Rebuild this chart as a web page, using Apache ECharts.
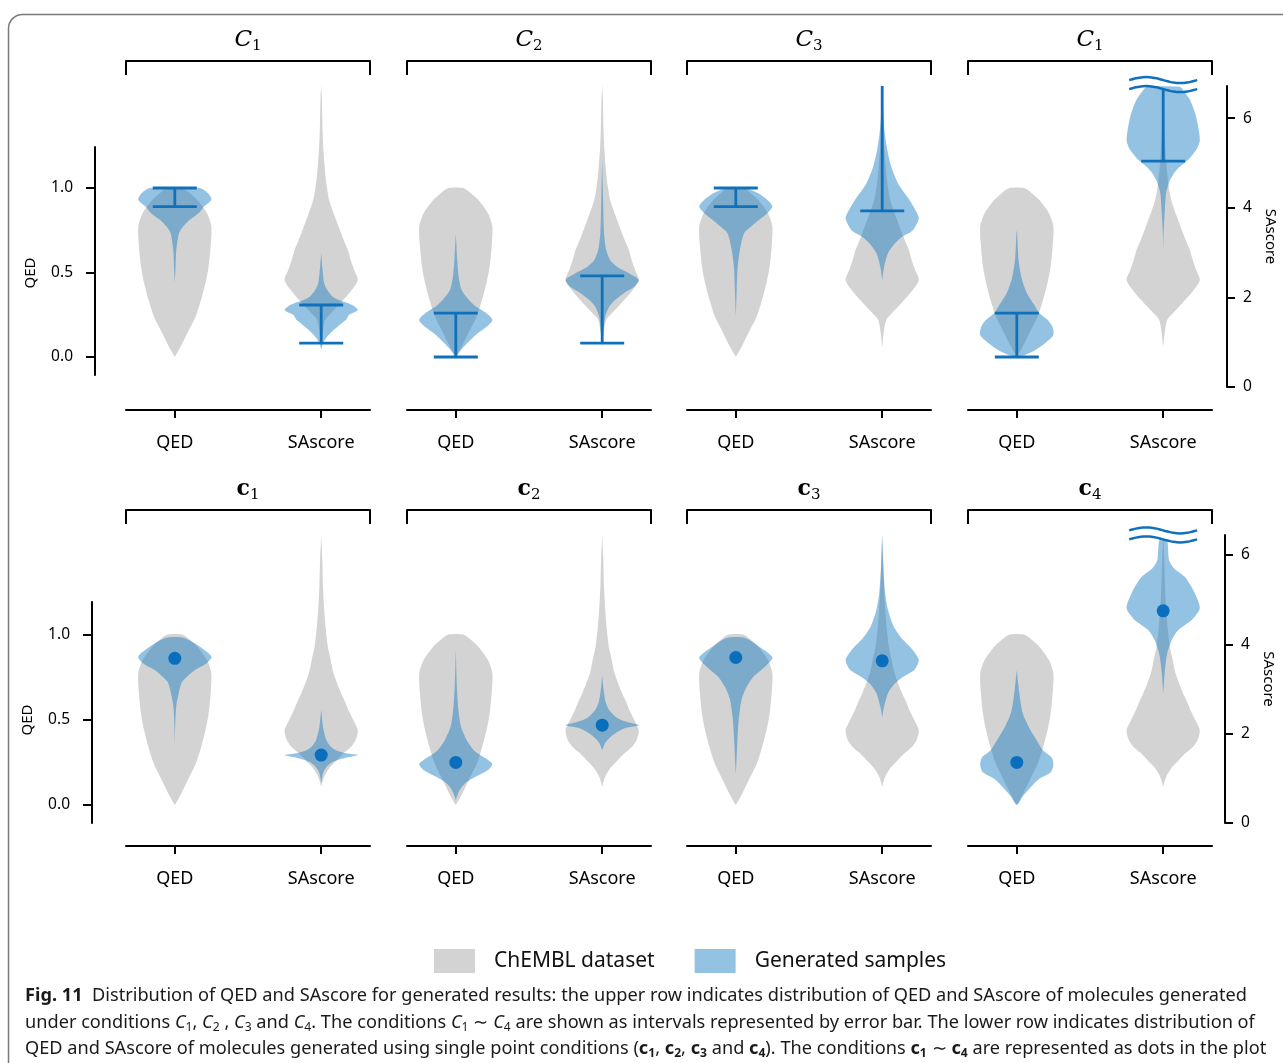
<!DOCTYPE html>
<html>
<head>
<meta charset="utf-8">
<script src="https://cdn.jsdelivr.net/npm/echarts@6/dist/echarts.min.js"></script>
<style>
html, body { margin: 0; padding: 0; background: #fff; }
#chart { width: 1283px; height: 1063px; }
</style>
</head>
<body>
<div id="chart"></div>
<script>
// x categories of every panel
const metrics = ['QED', 'SAscore']
// panel titles: subscripts (upper row uses italic C, lower row bold c; the 4th upper title reads C1 in the figure)
const upperTitles = ['1', '2', '3', '1']
const lowerTitles = ['1', '2', '3', '4']

// violin profiles, [value, relative density]
const chemblQed = [[0, 0], [0.06, 0.16], [0.14, 0.34], [0.24, 0.57], [0.34, 0.72], [0.44, 0.84], [0.53, 0.92], [0.63, 0.97], [0.77, 1.0], [0.85, 0.88], [0.93, 0.61], [0.975, 0.38], [1.0, 0.2]]
const chemblSaUpper = [[0.89, 0], [1.2, 0.04], [1.5, 0.11], [1.65, 0.27], [1.79, 0.43], [1.94, 0.6], [2.17, 0.84], [2.39, 1.0], [2.61, 0.9], [2.85, 0.8], [3.06, 0.73], [3.25, 0.63], [3.44, 0.54], [3.79, 0.38], [4.17, 0.22], [4.55, 0.14], [4.91, 0.095], [5.3, 0.06], [5.67, 0.04], [6.4, 0.02], [6.74, 0]]
const chemblSaLower = [[0.81, 0], [0.96, 0.05], [1.1, 0.12], [1.25, 0.24], [1.4, 0.42], [1.57, 0.62], [1.72, 0.83], [1.9, 0.96], [2.08, 1.0], [2.3, 0.88], [2.5, 0.76], [2.7, 0.66], [2.91, 0.54], [3.2, 0.4], [3.4, 0.32], [3.65, 0.26], [3.95, 0.18], [4.39, 0.12], [4.8, 0.08], [5.3, 0.05], [5.9, 0.03], [6.45, 0]]

// generated samples, interval conditions (upper row)
const genQedC1 = [[0.44, 0], [0.53, 0.02], [0.63, 0.04], [0.73, 0.11], [0.77, 0.22], [0.81, 0.4], [0.85, 0.65], [0.89, 0.8], [0.93, 1.0], [0.97, 0.9], [1.0, 0.68]]
const genSaC1 = [[0.83, 0], [0.98, 0.05], [1.12, 0.16], [1.27, 0.34], [1.43, 0.57], [1.5, 0.68], [1.61, 0.76], [1.72, 1.0], [1.83, 0.85], [2.0, 0.34], [2.17, 0.16], [2.32, 0.08], [2.68, 0.03], [2.99, 0]]
const genQedC2 = [[0, 0], [0.024, 0.08], [0.06, 0.22], [0.1, 0.4], [0.14, 0.6], [0.18, 0.85], [0.219, 1.0], [0.26, 0.83], [0.3, 0.54], [0.337, 0.36], [0.396, 0.16], [0.47, 0.08], [0.57, 0.04], [0.69, 0.01], [0.73, 0]]
const genSaC2 = [[0.98, 0], [1.2, 0.03], [1.56, 0.08], [1.79, 0.19], [1.94, 0.35], [2.1, 0.6], [2.23, 0.86], [2.39, 1.0], [2.54, 0.73], [2.68, 0.41], [2.83, 0.22], [3.06, 0.11], [3.44, 0.05], [4.17, 0.025], [5.07, 0]]
const genQedC3 = [[0.24, 0], [0.4, 0.025], [0.53, 0.05], [0.63, 0.11], [0.73, 0.22], [0.77, 0.41], [0.81, 0.63], [0.85, 0.86], [0.89, 1.0], [0.93, 0.86], [0.97, 0.6], [1.0, 0.27]]
const genSaC3 = [[2.39, 0], [2.68, 0.05], [2.99, 0.16], [3.21, 0.35], [3.35, 0.54], [3.5, 0.84], [3.77, 1.0], [4.02, 0.86], [4.25, 0.68], [4.55, 0.43], [4.91, 0.25], [5.29, 0.14], [5.67, 0.07], [6.1, 0.03], [6.74, 0]]
const genQedC4 = [[0, 0], [0.012, 0.22], [0.04, 0.5], [0.083, 0.78], [0.13, 1.0], [0.18, 0.97], [0.22, 0.84], [0.26, 0.61], [0.3, 0.5], [0.38, 0.27], [0.46, 0.14], [0.57, 0.05], [0.73, 0.01], [0.75, 0]]
const genSaC4 = [[3.06, 0], [3.44, 0.01], [3.88, 0.04], [4.33, 0.08], [4.62, 0.19], [4.84, 0.36], [5.07, 0.68], [5.29, 0.9], [5.51, 1.0], [6.03, 0.9], [6.41, 0.73], [6.63, 0.54], [6.7, 0.45]]

// generated samples, single point conditions (lower row)
const genQedP1 = [[0.36, 0], [0.46, 0.01], [0.58, 0.04], [0.66, 0.11], [0.72, 0.19], [0.75, 0.32], [0.79, 0.54], [0.83, 0.86], [0.87, 1.0], [0.93, 0.68], [0.98, 0.25]]
const genSaP1 = [[0.9, 0], [1.12, 0.05], [1.25, 0.14], [1.37, 0.32], [1.46, 0.68], [1.52, 1.0], [1.56, 0.68], [1.63, 0.4], [1.7, 0.27], [1.86, 0.14], [2.15, 0.05], [2.46, 0.01], [2.53, 0]]
const genQedP2 = [[0.03, 0], [0.05, 0.03], [0.09, 0.11], [0.13, 0.27], [0.165, 0.54], [0.205, 0.88], [0.24, 1.0], [0.275, 0.8], [0.32, 0.5], [0.38, 0.3], [0.46, 0.14], [0.56, 0.07], [0.69, 0.03], [0.91, 0]]
const genSaP2 = [[1.63, 0], [1.79, 0.08], [1.9, 0.19], [2.01, 0.36], [2.13, 0.65], [2.19, 1.0], [2.27, 0.64], [2.37, 0.38], [2.53, 0.19], [2.69, 0.1], [2.9, 0.05], [3.2, 0.01], [3.3, 0]]
const genQedP3 = [[0.18, 0], [0.22, 0.01], [0.36, 0.04], [0.5, 0.08], [0.62, 0.16], [0.69, 0.29], [0.75, 0.47], [0.81, 0.79], [0.865, 1.0], [0.93, 0.63], [0.98, 0.25]]
const genSaP3 = [[2.37, 0], [2.6, 0.05], [2.91, 0.16], [3.13, 0.35], [3.27, 0.57], [3.43, 0.88], [3.65, 1.0], [3.87, 0.84], [4.1, 0.57], [4.39, 0.32], [4.77, 0.16], [5.15, 0.08], [5.73, 0.03], [6.45, 0]]
const genQedP4 = [[0, 0], [0.01, 0.05], [0.05, 0.16], [0.09, 0.32], [0.15, 0.59], [0.19, 0.92], [0.235, 1.0], [0.28, 0.95], [0.32, 0.72], [0.38, 0.54], [0.46, 0.32], [0.54, 0.16], [0.62, 0.09], [0.69, 0.05], [0.79, 0]]
const genSaP4 = [[2.9, 0], [3.36, 0.04], [3.8, 0.11], [4.1, 0.24], [4.32, 0.41], [4.54, 0.77], [4.81, 1.0], [5.15, 0.86], [5.51, 0.59], [5.7, 0.3], [5.89, 0.16], [6.34, 0.1]]

// conditions
const intervalQed = [[0.89, 1.0], [0, 0.26], [0.89, 1.0], [0, 0.26]]
const intervalSa = [[0.98, 1.83], [0.98, 2.48], [3.93, 6.72], [5.04, 6.67]]
const intervalSaCapped = [true, true, false, false]
const pointQed = [0.86, 0.25, 0.865, 0.25]
const pointSa = [1.52, 2.19, 3.63, 4.75]
// broken (open-ended) SAscore condition marks: [panel, value]
const upperBreak = [3, 6.75]
const lowerBreak = [3, 6.45]

const FONT = '"Noto Sans", "Open Sans", sans-serif'
const GREY = '#d3d3d3'
const BLUE = 'rgba(16, 119, 192, 0.45)'
const DARK = '#1170ba'
const X_MIN = 2 / 3
const X_MAX = 7 / 3
const HALF = 0.25
const PANEL_LEFT = [126, 407, 687, 968]
const PANEL_W = 244

const rows = [
  { top: 61, bottom: 410, qedZero: 357, qedPx: 169, saZero: 387, saPx: 44.8,
    left: { x: 95, top: 147, bottom: 375, nameShift: 24 }, right: { x: 1227, top: 86, bottom: 387 },
    titles: upperTitles, bold: false,
    gen: [[genQedC1, genSaC1], [genQedC2, genSaC2], [genQedC3, genSaC3], [genQedC4, genSaC4]],
    chemblSa: chemblSaUpper, brk: upperBreak },
  { top: 510, bottom: 846, qedZero: 805, qedPx: 170.5, saZero: 823, saPx: 44.67,
    left: { x: 92, top: 602, bottom: 823, nameShift: 15 }, right: { x: 1225, top: 535, bottom: 823 },
    titles: lowerTitles, bold: true,
    gen: [[genQedP1, genSaP1], [genQedP2, genSaP2], [genQedP3, genSaP3], [genQedP4, genSaP4]],
    chemblSa: chemblSaLower, brk: lowerBreak }
]

const grid = []
const xAxis = []
const yAxis = []
const series = []

const blackLine = { color: '#000', width: 2 }

function violin (name, color, profile, pos, xi, yi, z) {
  return {
    type: 'custom', name, z, silent: true,
    xAxisIndex: xi, yAxisIndex: yi,
    itemStyle: { color },
    data: [[pos, profile[0][0]]],
    renderItem (params, api) {
      const right = profile.map(p => api.coord([pos + p[1] * HALF, p[0]]))
      const left = profile.slice().reverse().map(p => api.coord([pos - p[1] * HALF, p[0]]))
      return { type: 'polygon', shape: { points: right.concat(left), smooth: 0.25 }, style: { fill: color } }
    }
  }
}

function errorBar (pos, iv, capLo, capHi, xi, yi) {
  return {
    type: 'custom', name: 'condition', z: 4, silent: true,
    xAxisIndex: xi, yAxisIndex: yi,
    data: [[pos, iv[0], iv[1]]],
    renderItem (params, api) {
      const lo = api.coord([pos, iv[0]])
      const hi = api.coord([pos, iv[1]])
      const st = { stroke: DARK, lineWidth: 2.8 }
      const kids = [{ type: 'line', shape: { x1: lo[0], y1: lo[1], x2: hi[0], y2: hi[1] }, style: st }]
      if (capLo) kids.push({ type: 'line', shape: { x1: lo[0] - 22, y1: lo[1], x2: lo[0] + 22, y2: lo[1] }, style: st })
      if (capHi) kids.push({ type: 'line', shape: { x1: hi[0] - 22, y1: hi[1], x2: hi[0] + 22, y2: hi[1] }, style: st })
      return { type: 'group', children: kids }
    }
  }
}

function breakMark (value, xi, yi) {
  return {
    type: 'custom', name: 'break', z: 4, silent: true,
    xAxisIndex: xi, yAxisIndex: yi,
    data: [[2, value]],
    renderItem (params, api) {
      const c = api.coord([2, value])
      const kids = [-4.5, 4.5].map(off => {
        const pts = []
        for (let t = 0; t <= 1.0001; t += 0.05) {
          pts.push([c[0] - 34 + 68 * t, c[1] + off - 3 * Math.sin(2 * Math.PI * t)])
        }
        return { type: 'polyline', shape: { points: pts, smooth: 0.3 }, style: { stroke: DARK, lineWidth: 2.5, fill: null } }
      })
      return { type: 'group', children: kids }
    }
  }
}

function titleName (sub, bold) {
  return bold ? '{b|c}{s|' + sub + '}' : '{c|C}{s|' + sub + '}'
}

rows.forEach((row, r) => {
  const h = row.bottom - row.top
  const qedMin = -(row.bottom - row.qedZero) / row.qedPx
  const qedMax = (row.qedZero - row.top) / row.qedPx
  const saMin = -(row.bottom - row.saZero) / row.saPx
  const saMax = (row.saZero - row.top) / row.saPx

  PANEL_LEFT.forEach((left, c) => {
    const g = grid.length
    grid.push({ left, top: row.top, width: PANEL_W, height: h })
    const xb = xAxis.length
    xAxis.push({
      gridIndex: g, type: 'value', min: X_MIN, max: X_MAX, position: 'bottom',
      axisLine: { onZero: false, lineStyle: blackLine },
      axisTick: { customValues: [1, 2], length: 8, lineStyle: blackLine },
      axisLabel: { customValues: [1, 2], formatter: v => metrics[Math.round(v) - 1], fontSize: 18, color: '#000', margin: 24, fontFamily: FONT },
      splitLine: { show: false }
    })
    xAxis.push({
      gridIndex: g, type: 'value', min: X_MIN, max: X_MAX, position: 'top',
      name: titleName(row.titles[c], row.bold), nameLocation: 'middle', nameGap: 7,
      nameTextStyle: {
        rich: {
          c: { fontFamily: '"DejaVu Serif", serif', fontStyle: 'italic', fontSize: 23, lineHeight: 27, color: '#000' },
          b: { fontFamily: '"DejaVu Serif", serif', fontWeight: 'bold', fontSize: 22, lineHeight: 27, color: '#000' },
          s: { fontFamily: '"DejaVu Serif", serif', fontSize: 15, lineHeight: 15, verticalAlign: 'bottom', color: '#000' }
        }
      },
      axisLine: { onZero: false, lineStyle: blackLine },
      axisTick: { customValues: [X_MIN, X_MAX], inside: true, length: 14, lineStyle: blackLine },
      axisLabel: { show: false },
      splitLine: { show: false }
    })
    const yq = yAxis.length
    yAxis.push({ gridIndex: g, type: 'value', min: qedMin, max: qedMax, show: false })
    yAxis.push({ gridIndex: g, type: 'value', min: saMin, max: saMax, show: false })

    series.push(violin('ChEMBL dataset', GREY, chemblQed, 1, xb, yq, 2))
    series.push(violin('ChEMBL dataset', GREY, row.chemblSa, 2, xb, yq + 1, 2))
    series.push(violin('Generated samples', BLUE, row.gen[c][0], 1, xb, yq, 3))
    series.push(violin('Generated samples', BLUE, row.gen[c][1], 2, xb, yq + 1, 3))

    if (r === 0) {
      series.push(errorBar(1, intervalQed[c], true, true, xb, yq))
      series.push(errorBar(2, intervalSa[c], true, intervalSaCapped[c], xb, yq + 1))
    } else {
      series.push({
        type: 'scatter', name: 'condition', z: 5, silent: true, xAxisIndex: xb, yAxisIndex: yq,
        symbolSize: 13, itemStyle: { color: '#0a6ebd', opacity: 1 }, data: [[1, pointQed[c]]]
      })
      series.push({
        type: 'scatter', name: 'condition', z: 5, silent: true, xAxisIndex: xb, yAxisIndex: yq + 1,
        symbolSize: 13, itemStyle: { color: '#0a6ebd', opacity: 1 }, data: [[2, pointSa[c]]]
      })
    }
    if (row.brk[0] === c) series.push(breakMark(row.brk[1], xb, yq + 1))
  })

  // left QED axis
  let g = grid.length
  grid.push({ left: row.left.x, top: row.left.top, width: 20, height: row.left.bottom - row.left.top })
  xAxis.push({ gridIndex: g, type: 'value', show: false })
  yAxis.push({
    gridIndex: g, type: 'value', position: 'left',
    min: -(row.left.bottom - row.qedZero) / row.qedPx, max: (row.qedZero - row.left.top) / row.qedPx,
    name: 'QED', nameLocation: 'middle', nameGap: 57,
    nameTextStyle: { fontSize: 15, color: '#000', fontFamily: FONT, padding: [0, row.left.nameShift, 0, 0] },
    axisLine: { show: true, onZero: false, lineStyle: blackLine },
    axisTick: { show: true, customValues: [0, 0.5, 1], length: 9, lineStyle: blackLine },
    axisLabel: { customValues: [0, 0.5, 1], formatter: v => v.toFixed(1), fontSize: 15.5, color: '#000', margin: 22, fontFamily: FONT },
    splitLine: { show: false }
  })

  // right SAscore axis
  g = grid.length
  grid.push({ left: row.right.x - 20, top: row.right.top, width: 20, height: row.right.bottom - row.right.top })
  xAxis.push({ gridIndex: g, type: 'value', show: false })
  yAxis.push({
    gridIndex: g, type: 'value', position: 'right',
    min: 0, max: (row.saZero - row.right.top) / row.saPx,
    name: 'SAscore', nameLocation: 'middle', nameGap: 36, nameRotate: -90,
    nameTextStyle: { fontSize: 15, color: '#000', fontFamily: FONT },
    axisLine: { show: true, onZero: false, lineStyle: blackLine },
    axisTick: { show: true, customValues: [0, 2, 4, 6], length: 8, lineStyle: blackLine },
    axisLabel: { customValues: [0, 2, 4, 6], fontSize: 15.5, color: '#000', margin: 16, fontFamily: FONT },
    splitLine: { show: false }
  })
})

// caption
const captionLines = [
  '{b|Fig. 11}  Distribution of QED and SAscore for generated results: the upper row indicates distribution of QED and SAscore of molecules generated',
  'under conditions {i|C}{s|1}, {i|C}{s|2} , {i|C}{s|3} and {i|C}{s|4}. The conditions {i|C}{s|1} \u223c {i|C}{s|4} are shown as intervals represented by error bar. The lower row indicates distribution of',
  'QED and SAscore of molecules generated using single point conditions ({b|c}{bs|1}, {b|c}{bs|2}, {b|c}{bs|3} and {b|c}{bs|4}). The conditions {b|c}{bs|1} \u223c {b|c}{bs|4} are represented as dots in the plot'
]
const ctx = document.createElement('canvas').getContext('2d')
ctx.font = 'bold 18px ' + FONT
let w1 = ctx.measureText('Fig. 11').width
ctx.font = '18px ' + FONT
w1 += ctx.measureText('  Distribution of QED and SAscore for generated results: the upper row indicates distribution of QED and SAscore of molecules generated').width
const captionScale = 1222 / w1
const captionRich = {
  b: { fontFamily: FONT, fontWeight: 'bold', fontSize: 18 },
  i: { fontFamily: FONT, fontStyle: 'italic', fontSize: 18 },
  s: { fontFamily: FONT, fontSize: 12, lineHeight: 12, verticalAlign: 'bottom' },
  bs: { fontFamily: FONT, fontWeight: 'bold', fontSize: 12, lineHeight: 12, verticalAlign: 'bottom' }
}

const graphic = [
  { type: 'rect', silent: true, z: -10, shape: { x: 8.5, y: 14.5, width: 1320, height: 1100, r: 14 }, style: { fill: 'none', stroke: '#7a7a7a', lineWidth: 1.5 } }
]
captionLines.forEach((t, i) => {
  graphic.push({
    type: 'text', silent: true, x: 25, y: 996 + i * 26.5, scaleX: captionScale,
    style: { text: t, rich: captionRich, fontFamily: FONT, fontSize: 18, lineHeight: 22, fill: '#1a1a1a', verticalAlign: 'middle' }
  })
})

const chart = echarts.init(document.getElementById('chart'))
chart.setOption({
  animation: false,
  backgroundColor: '#fff',
  textStyle: { fontFamily: FONT },
  legend: {
    data: ['ChEMBL dataset', 'Generated samples'],
    left: 434, top: 949, padding: 0,
    itemWidth: 41, itemHeight: 24, itemGap: 40, icon: 'rect', selectedMode: false,
    textStyle: { fontSize: 21, color: '#111', fontFamily: FONT, padding: [0, 0, 0, 14] }
  },
  graphic,
  grid,
  xAxis,
  yAxis,
  series
})
</script>
</body>
</html>
